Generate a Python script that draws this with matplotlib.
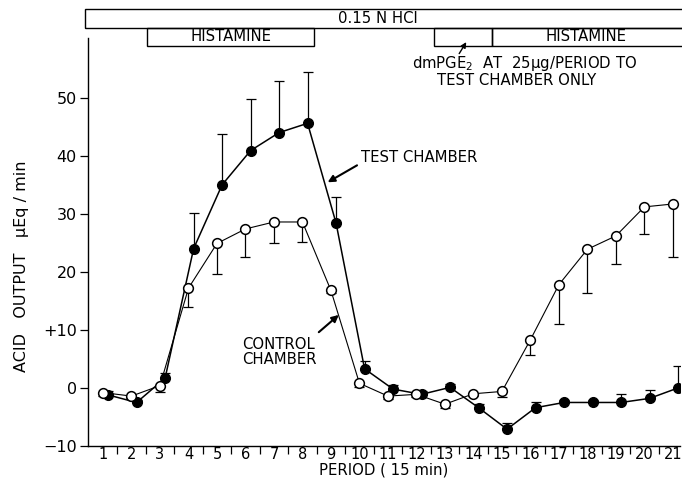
import matplotlib
matplotlib.use("Agg")
import matplotlib.pyplot as plt
from matplotlib.patches import Rectangle
import numpy as np

# Периоды по 15 мин
periods = np.arange(1, 22)

# Тестовая камера (закрашенные точки), ошибка вверх
test_mean = [-1.2, -2.5, 1.7, 24.0, 35.0, 40.9, 44.0, 45.6, 28.4, 3.3, -0.2,
             -1.1, 0.1, -3.4, -7.1, -3.4, -2.5, -2.5, -2.5, -1.8, 0.0]
test_err = [0.7, 0.4, 0.9, 6.2, 8.7, 8.9, 8.9, 8.8, 4.5, 1.4, 0.7,
            0.6, 0.6, 0.6, 1.0, 0.9, 0.4, 0.4, 1.4, 1.5, 3.7]

# Контрольная камера (пустые кружки), ошибка вниз
ctrl_mean = [-0.8, -1.4, 0.4, 17.2, 24.9, 27.4, 28.6, 28.6, 16.8, 0.8, -1.4,
             -1.1, -2.8, -1.0, -0.6, 8.3, 17.8, 23.9, 26.2, 31.2, 31.7]
ctrl_err = [0.5, 0.4, 1.1, 3.2, 5.2, 4.9, 3.6, 3.4, 0.5, 0.6, 0.5,
            0.5, 0.6, 0.3, 1.0, 2.6, 6.8, 7.6, 4.8, 4.7, 9.1]

y_ticks = [-10, 0, 10, 20, 30, 40, 50]
y_labels = ["\u221210", "0", "+10", "20", "30", "40", "50"]

# Схема введения: (начало, конец, подпись) в единицах периода
histamine_spans = [(2.55, 8.4, "HISTAMINE"), (14.65, 21.4, "HISTAMINE")]
pge_span = (12.6, 14.65)

plt.rcParams['font.family'] = ['DejaVu Sans']
FS = 10.7

fig = plt.figure(figsize=(6.82, 4.79), dpi=100)
ax = fig.add_axes([88 / 682, 1 - 446 / 479, 592 / 682, 408 / 479])

shift = 0.18  # закрашенные точки чуть сдвинуты вправо

ax.errorbar(periods + shift, test_mean, yerr=[np.zeros(21), test_err],
            fmt='none', ecolor='black', elinewidth=0.9, capsize=3.5,
            capthick=0.9, zorder=2)
ax.errorbar(periods, ctrl_mean, yerr=[ctrl_err, np.zeros(21)],
            fmt='none', ecolor='black', elinewidth=0.9, capsize=3.5,
            capthick=0.9, zorder=2)

ax.plot(periods + shift, test_mean, color='black', lw=1.1, marker='o', ms=7,
        mfc='black', mec='black', zorder=3)
ax.plot(periods, ctrl_mean, color='black', lw=0.8, marker='o', ms=7,
        mfc='white', mec='black', mew=1.1, zorder=4)

ax.set_xlim(0.474, 21.25)
ax.set_ylim(-10, 60.3)

for s in ['top', 'right']:
    ax.spines[s].set_visible(False)
ax.spines['left'].set_linewidth(1.0)
ax.spines['bottom'].set_linewidth(1.0)

ax.set_yticks(y_ticks, labels=y_labels, fontsize=11.5)
ax.tick_params(axis='y', direction='out', length=6, width=0.9, pad=2)

ax.set_xticks(periods, labels=[str(p) for p in periods], fontsize=10.5)
ax.set_xticks(periods[:-1] + 0.5, minor=True)
ax.tick_params(axis='x', which='major', length=0, pad=1)
ax.tick_params(axis='x', which='minor', direction='out', length=6, width=0.9)

ax.set_ylabel("ACID   OUTPUT   \u03bcEq / min", fontsize=11.5)
ax.yaxis.set_label_coords(-0.1, 0.44)
ax.set_xlabel("PERIOD ( 15 min)", fontsize=FS, labelpad=0)

# Полосы над графиком
ax.add_patch(Rectangle((0.37, 62.1), 21.2, 3.2, fill=False, ec='black',
                       lw=1.0, clip_on=False))
ax.text(10.65, 63.7, "0.15 N HCl", ha='center', va='center', fontsize=FS)
for x0, x1, lab in histamine_spans:
    ax.add_patch(Rectangle((x0, 59.0), x1 - x0, 3.1, fill=False, ec='black',
                           lw=1.0, clip_on=False))
    ax.text((x0 + min(x1, 21.25)) / 2, 60.5, lab, ha='center', va='center',
            fontsize=FS)
ax.add_patch(Rectangle((pge_span[0], 59.0), pge_span[1] - pge_span[0], 3.1,
                       fill=False, ec='black', lw=1.0, clip_on=False))

ax.text(11.84, 55.9, "dmPGE$_2$  AT  25\u03bcg/PERIOD TO", ha='left',
        va='center', fontsize=FS)
ax.text(12.72, 52.9, "TEST CHAMBER ONLY", ha='left', va='center', fontsize=FS)
ax.annotate("", xy=(13.8, 60.0), xytext=(13.45, 57.2),
            arrowprops=dict(arrowstyle='-|>', color='black', lw=1.0,
                            mutation_scale=8), annotation_clip=False)

ax.text(10.05, 39.7, "TEST CHAMBER", ha='left', va='center', fontsize=FS)
ax.annotate("", xy=(8.8, 35.2), xytext=(10.0, 38.6),
            arrowprops=dict(arrowstyle='-|>', color='black', lw=1.5,
                            mutation_scale=10))

ax.text(5.9, 6.2, "CONTROL\nCHAMBER", ha='left', va='center', fontsize=FS,
        linespacing=1.05)
ax.annotate("", xy=(9.35, 12.9), xytext=(8.5, 9.3),
            arrowprops=dict(arrowstyle='-|>', color='black', lw=1.5,
                            mutation_scale=10))

fig.savefig("out.png", dpi=100)
